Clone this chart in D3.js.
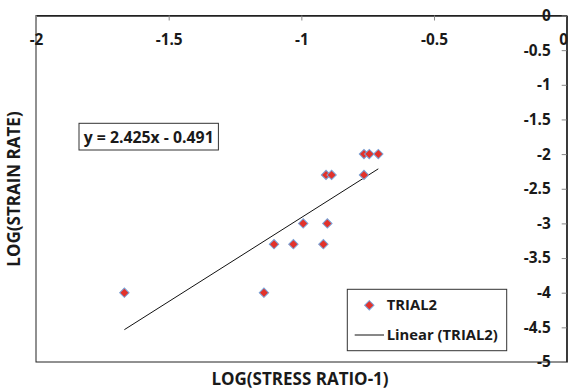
<!DOCTYPE html>
<html>
<head>
<meta charset="utf-8">
<script src="https://cdn.jsdelivr.net/npm/d3@7"></script>
<style>
  html, body { margin: 0; padding: 0; background: #fff; }
  svg { display: block; }
  text { font-family: "Open Sans", Lato, sans-serif; font-weight: bold; fill: #1a1a1a; }
</style>
</head>
<body>
<script>
// Strain-rate vs stress-ratio measurements (log10 values)
const logStressRatio = [-0.764, -0.744, -0.710, -0.907, -0.886, -0.764, -0.993, -0.902, -1.030, -0.917, -1.667, -1.141, -1.103];
const logStrainRate  = [-2.0, -2.0, -2.0, -2.3, -2.3, -2.3, -3.0, -3.0, -3.3, -3.3, -4.0, -4.0, -3.3];
const seriesName = "TRIAL2";

// Linear trendline coefficients, as printed in the equation label
const slope = 2.425;
const intercept = -0.491;

const xTicks = [-2, -1.5, -1, -0.5, 0];
const yTicks = [0, -0.5, -1, -1.5, -2, -2.5, -3, -3.5, -4, -4.5, -5];

const W = 568, H = 391;
const plot = { left: 36, right: 566.7, top: 15.5, bottom: 362 };
const FONT = "'Open Sans', Lato, sans-serif";
const fmt = d => String(d);   // plain hyphen-minus, e.g. "-1.5"

const svg = d3.select("body").append("svg").attr("width", W).attr("height", H);

const x = d3.scaleLinear().domain([-2, 0]).range([plot.left, plot.right]);
const y = d3.scaleLinear().domain([-5, 0]).range([plot.bottom, plot.top]);

// Plot-area frame
svg.append("rect")
  .attr("x", plot.left).attr("y", plot.top)
  .attr("width", plot.right - plot.left).attr("height", plot.bottom - plot.top)
  .attr("fill", "none").attr("stroke", "#222").attr("stroke-width", 1);

function styleAxis(g) {
  g.select(".domain").attr("stroke", "#222").attr("stroke-width", 1.3);
  g.selectAll(".tick line").attr("stroke", "#888");
  g.selectAll("text").attr("font-size", 15.4).attr("font-family", FONT)
    .attr("font-weight", "bold").attr("fill", "#1a1a1a");
}

// X axis sits on y = 0 (top edge), ticks pointing down
const xAxis = svg.append("g")
  .attr("transform", `translate(0,${y(0)})`)
  .call(d3.axisBottom(x).tickValues(xTicks).tickSizeInner(5).tickSizeOuter(0).tickFormat(fmt));
styleAxis(xAxis);
xAxis.selectAll(".tick text").attr("y", 29).attr("dy", 0);
// the last label would run past the right edge; right-align it to the edge
xAxis.selectAll(".tick text").filter(d => d === 0).attr("text-anchor", "end").attr("x", W - x(0) - 0.5);

// Y axis sits on x = 0 (right edge), ticks pointing left
const yAxis = svg.append("g")
  .attr("transform", `translate(${x(0)},0)`)
  .call(d3.axisLeft(y).tickValues(yTicks).tickSizeInner(5).tickSizeOuter(0)
        .tickPadding(11).tickFormat(fmt));
styleAxis(yAxis);

// Trendline across the observed x range
const xExt = d3.extent(logStressRatio);
svg.append("line")
  .attr("x1", x(xExt[0])).attr("y1", y(slope * xExt[0] + intercept))
  .attr("x2", x(xExt[1])).attr("y2", y(slope * xExt[1] + intercept))
  .attr("stroke", "#111").attr("stroke-width", 1);

// Diamond markers
const diamond = d3.symbol().type(d3.symbolSquare).size(44);
svg.append("g").selectAll("path")
  .data(logStressRatio.map((v, i) => [v, logStrainRate[i]]))
  .join("path")
  .attr("d", diamond)
  .attr("transform", d => `translate(${x(d[0])},${y(d[1])}) rotate(45)`)
  .attr("fill", "#e2322b")
  .attr("stroke", "#7aa3d8")
  .attr("stroke-width", 1);

// Equation label
const eqG = svg.append("g").attr("transform", "translate(148.7,137)");
eqG.append("rect").attr("x", -69.7).attr("y", -13.7).attr("width", 139.4).attr("height", 26.7)
  .attr("fill", "#fff").attr("stroke", "#333").attr("stroke-width", 1);
eqG.append("text").attr("text-anchor", "middle").attr("dy", "0.35em").attr("font-size", 15.8)
  .text(`y = ${slope}x - ${Math.abs(intercept)}`);

// Legend
const lg = svg.append("g");
lg.append("rect").attr("x", 347.3).attr("y", 289.3).attr("width", 159.4).attr("height", 61.4)
  .attr("fill", "#fff").attr("stroke", "#333").attr("stroke-width", 1);
lg.append("path").attr("d", diamond).attr("transform", "translate(369.3,305.3) rotate(45)")
  .attr("fill", "#e2322b").attr("stroke", "#7aa3d8").attr("stroke-width", 1);
lg.append("text").attr("x", 386.7).attr("y", 305.3).attr("dy", "0.35em").attr("font-size", 14.8).text(seriesName);
lg.append("line").attr("x1", 354.7).attr("x2", 384).attr("y1", 335).attr("y2", 335)
  .attr("stroke", "#111").attr("stroke-width", 1);
lg.append("text").attr("x", 386.7).attr("y", 335).attr("dy", "0.35em").attr("font-size", 14.8)
  .text(`Linear (${seriesName})`);

// Axis titles
svg.append("text").attr("x", 300).attr("y", 379.5).attr("dy", "0.35em").attr("text-anchor", "middle")
  .attr("font-size", 17).text("LOG(STRESS RATIO-1)");
svg.append("text").attr("transform", "translate(14,189) rotate(-90)").attr("dy", "0.35em")
  .attr("text-anchor", "middle").attr("font-size", 17).text("LOG(STRAIN RATE)");
</script>
</body>
</html>
